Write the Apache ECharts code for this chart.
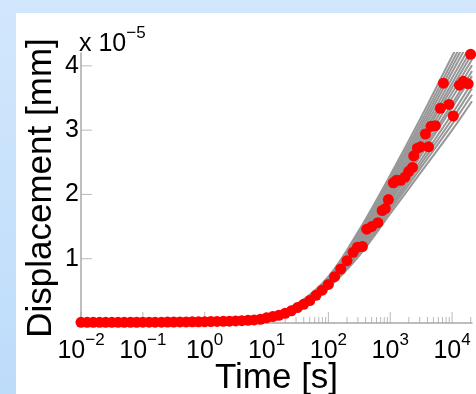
<!DOCTYPE html>
<html>
<head>
<meta charset="utf-8">
<script src="https://cdn.jsdelivr.net/npm/echarts@6/dist/echarts.min.js"></script>
<style>
html,body{margin:0;padding:0;width:476px;height:394px;overflow:hidden;}
body{background:linear-gradient(to bottom,#d2e7fc,#bddcfa);position:relative;}
#c{position:absolute;left:16px;top:13px;width:460px;height:381px;background:#ffffff;}
</style>
</head>
<body>
<div id="c"></div>
<script>
// Measured data: time [s] and displacement [x 1e-5 mm]
const timeS = [0.01,0.0126,0.0158,0.02,0.0251,0.0316,0.0398,0.0501,0.0631,0.0794,
  0.1,0.126,0.158,0.2,0.251,0.316,0.398,0.501,0.631,0.794,
  1,1.26,1.58,2,2.51,3.16,3.98,5.01,6.31,7.94,
  10,12.6,15.8,20,25.1,31.6,39.8,50.1,63.1,79.4,
  100,126,158,200,251,295,355,417,501,631,
  741,832,933,1122,1259,1479,1738,1995,2291,2399,
  2754,3090,3715,4169,4571,5370,6457,7244,8913,10471,
  13183,15136,18197,19953];
const displacement = [0.01,0.01,0.01,0.01,0.01,0.01,0.01,0.01,0.01,0.01,
  0.012,0.012,0.013,0.013,0.014,0.015,0.016,0.017,0.018,0.019,
  0.02,0.022,0.024,0.026,0.029,0.032,0.036,0.041,0.048,0.058,
  0.08,0.10,0.12,0.15,0.19,0.24,0.29,0.35,0.43,0.51,
  0.60,0.72,0.84,0.97,1.10,1.18,1.19,1.46,1.50,1.56,
  1.75,1.78,1.92,2.18,2.22,2.22,2.27,2.36,2.42,2.60,
  2.72,2.74,2.94,2.74,3.06,3.07,3.34,3.73,3.40,3.22,
  3.70,3.76,3.72,4.18];

// Model simulation runs (gray curves)
const modelTime = [1,3.16,10,31.6,100,316,1000,3162,10000,21000];
const modelRuns = [
  [0.02,0.03,0.07,0.22,0.55,1.05,1.70,2.35,3.00,3.45],
  [0.02,0.03,0.07,0.23,0.56,1.08,1.75,2.42,3.09,3.55],
  [0.02,0.03,0.07,0.23,0.58,1.11,1.79,2.48,3.17,3.65],
  [0.02,0.03,0.08,0.24,0.59,1.14,1.83,2.54,3.25,3.74],
  [0.02,0.03,0.08,0.24,0.60,1.17,1.88,2.61,3.35,3.84],
  [0.02,0.03,0.08,0.25,0.61,1.19,1.92,2.66,3.41,3.92],
  [0.02,0.03,0.08,0.25,0.62,1.22,1.96,2.72,3.50,4.01],
  [0.02,0.04,0.09,0.26,0.64,1.25,2.00,2.78,3.58,4.10],
  [0.02,0.04,0.09,0.27,0.65,1.28,2.04,2.84,3.66,4.19],
  [0.02,0.04,0.09,0.27,0.66,1.30,2.08,2.89,3.73,4.27],
  [0.02,0.04,0.09,0.28,0.67,1.33,2.12,2.95,3.81,4.36],
  [0.02,0.04,0.09,0.28,0.68,1.36,2.17,3.01,3.90,4.46],
  [0.02,0.04,0.10,0.29,0.69,1.39,2.21,3.07,3.98,4.56],
  [0.02,0.04,0.10,0.29,0.71,1.42,2.25,3.13,4.06,4.65],
  [0.02,0.04,0.10,0.30,0.72,1.45,2.30,3.20,4.15,4.75]
];

// Axis ticks
const xMajorTicks = [0.01,0.1,1,10,100,1000,10000];
const xMinorTicks = [];
for (let k = -2; k <= 4; k++) for (let m = 2; m <= 9; m++) { const v = m * Math.pow(10, k); if (v <= 21000) xMinorTicks.push(+v.toPrecision(3)); }
const yTicks = [1,2,3,4];

const FONT = '"Liberation Sans", Arial, Helvetica, sans-serif';
const AXIS_GRAY = '#a8a8a8';
const chart = echarts.init(document.getElementById('c'), null, {renderer:'canvas'});

const series = [];
modelRuns.forEach(run => {
  series.push({
    type:'line', data: modelTime.map((t,i)=>[t, run[i]]),
    showSymbol:false, smooth:0.35, silent:true, clip:true,
    lineStyle:{color:'#979797', width:2}, z:2
  });
});
series.push({
  type:'scatter', data: xMinorTicks.map(t=>[t,0]), symbol:'rect',
  symbolSize:[1,6], symbolOffset:[0,-3], itemStyle:{color:AXIS_GRAY}, silent:true, clip:false, z:1
});
series.push({
  type:'scatter', data: xMajorTicks.map(t=>[t,0]), symbol:'rect',
  symbolSize:[1,11], symbolOffset:[0,-5.5], itemStyle:{color:AXIS_GRAY}, silent:true, clip:false, z:1
});
series.push({
  type:'scatter', data: yTicks.map(v=>[0.01,v]), symbol:'rect',
  symbolSize:[11,1], symbolOffset:[5.5,0], itemStyle:{color:AXIS_GRAY}, silent:true, clip:false, z:1
});
series.push({
  type:'scatter', data: timeS.map((t,i)=>[t, displacement[i]]),
  symbol:'circle', symbolSize:11, itemStyle:{color:'#ff0000', opacity:1}, silent:true, clip:false, z:5
});

function supLabel(exp){
  const s = exp < 0 ? '\u2212' + Math.abs(exp) : String(exp);
  return '{b|10}{s|' + s + '}';
}
const richSup = {
  b:{fontFamily:FONT, fontSize:25, fontWeight:'normal', color:'#000', lineHeight:32, verticalAlign:'bottom'},
  s:{fontFamily:FONT, fontSize:17, fontWeight:'normal', color:'#000', lineHeight:17, verticalAlign:'top'}
};

chart.setOption({
  animation:false,
  backgroundColor:'#ffffff',
  title:{
    text:'{b|x 10}{s|\u22125}', left:63, top:12, padding:0,
    textStyle:{fontWeight:'normal', rich:richSup}
  },
  grid:{left:65, top:40, right:4, bottom:71, containLabel:false, outerBoundsMode:'none'},
  xAxis:{
    type:'log', logBase:10, min:0.01, max:21000, interval:1,
    name:'Time [s]', nameLocation:'middle', nameGap:38, nameMoveOverlap:false,
    nameTextStyle:{fontFamily:FONT, fontSize:35, color:'#000'},
    axisLine:{show:true, lineStyle:{color:AXIS_GRAY, width:1.5}},
    axisTick:{show:false}, splitLine:{show:false}, minorTick:{show:false},
    axisLabel:{
      margin:9, color:'#000', showMaxLabel:true, showMinLabel:true, hideOverlap:false,
      formatter:function(v){
        const e = Math.log10(v); const r = Math.round(e);
        if (Math.abs(e - r) > 1e-6) return '';
        return supLabel(r);
      },
      rich:richSup
    }
  },
  yAxis:{
    type:'value', min:0, max:4.2, interval:1,
    name:'Displacement [mm]', nameLocation:'middle', nameGap:22, nameMoveOverlap:false,
    nameTextStyle:{fontFamily:FONT, fontSize:35, color:'#000'},
    axisLine:{show:true, lineStyle:{color:AXIS_GRAY, width:1.5}},
    axisTick:{show:false}, splitLine:{show:false},
    axisLabel:{
      margin:2, color:'#000', fontFamily:FONT, fontSize:25,
      formatter:function(v){ return (Math.abs(v - Math.round(v)) < 1e-9 && v >= 1) ? String(Math.round(v)) : ''; }
    }
  },
  series:series
});
</script>
</body>
</html>
